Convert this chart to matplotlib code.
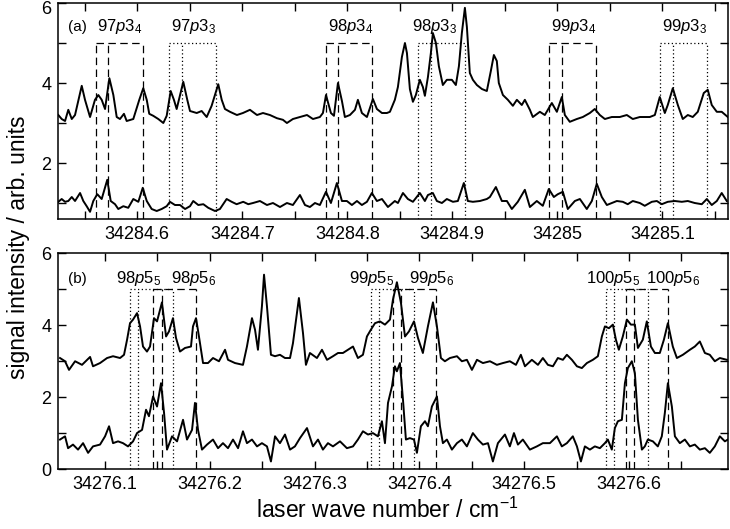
import numpy as np
import matplotlib
matplotlib.use('Agg')
import matplotlib.pyplot as plt
from matplotlib.ticker import MultipleLocator, FuncFormatter
from matplotlib.transforms import ScaledTranslation

plt.rcParams['font.family'] = ['Liberation Sans', 'DejaVu Sans']
plt.rcParams['mathtext.fontset'] = 'custom'
plt.rcParams['mathtext.rm'] = 'Liberation Sans'
plt.rcParams['mathtext.it'] = 'Liberation Sans:italic'

# wave numbers are stored as offsets from these bases
A0 = 34284.0
B0 = 34276.0

# panel (a), upper trace
a_top_x = [0.5248, 0.5280, 0.5312, 0.5343, 0.5376, 0.5407, 0.5471, 0.5502, 0.5550, 0.5597,
           0.5629, 0.5661, 0.5693, 0.5734, 0.5772, 0.5804, 0.5835, 0.5873, 0.5899, 0.5962,
           0.6019, 0.6057, 0.6090, 0.6114, 0.6152, 0.6200, 0.6248, 0.6280, 0.6318, 0.6349,
           0.6375, 0.6438, 0.6476, 0.6502, 0.6566, 0.6613, 0.6661, 0.6708, 0.6771, 0.6804,
           0.6835, 0.6883, 0.6949, 0.7006, 0.7073, 0.7140, 0.7197, 0.7263, 0.7330, 0.7387,
           0.7425, 0.7482, 0.7549, 0.7616, 0.7673, 0.7739, 0.7768, 0.7797, 0.7844, 0.7873,
           0.7911, 0.7949, 0.7977, 0.8025, 0.8073, 0.8101, 0.8139, 0.8187, 0.8244, 0.8282,
           0.8330, 0.8377,
           0.8406, 0.8453, 0.8482, 0.8520, 0.8549, 0.8568, 0.8596, 0.8625, 0.8653, 0.8691,
           0.8720, 0.8739, 0.8768, 0.8796, 0.8815, 0.8844, 0.8872, 0.8910, 0.8948, 0.8996,
           0.9034, 0.9063, 0.9091, 0.9120, 0.9139, 0.9167, 0.9196, 0.9234, 0.9282, 0.9329,
           0.9367, 0.9396, 0.9424, 0.9443, 0.9482, 0.9529,
           0.9577, 0.9615,
           0.9662, 0.9691, 0.9739, 0.9767, 0.9834, 0.9881, 0.9948, 0.9996, 1.0043, 1.0072,
           1.0119, 1.0186, 1.0243, 1.0310, 1.0357, 1.0405, 1.0453, 1.0519, 1.0595, 1.0662,
           1.0719, 1.0786, 1.0881, 1.0929, 1.0976, 1.1024, 1.1052, 1.1100, 1.1148, 1.1195,
           1.1243, 1.1290, 1.1338, 1.1395, 1.1433, 1.1471, 1.1519, 1.1566, 1.1624]
a_top_y = [3.2, 3.1, 3.05, 3.33, 3.1, 3.2, 3.93, 3.58, 3.15, 3.58,
           3.7, 3.58, 3.35, 4.12, 3.7, 3.15, 3.1, 3.23, 3.05, 3.1,
           3.58, 3.87, 3.58, 3.23, 3.18, 3.1, 3.0, 3.18, 3.8, 3.58,
           3.35, 4.03, 3.58, 3.3, 3.25, 3.3, 3.15, 3.43, 3.97, 3.58,
           3.35, 3.28, 3.2, 3.25, 3.33, 3.2, 3.25, 3.2, 3.12, 3.08,
           3.0, 3.1, 3.15, 3.2, 3.1, 3.15, 3.25, 3.7, 3.25, 3.18,
           4.0, 3.55, 3.15, 3.2, 3.33, 3.58, 3.25, 3.15, 3.6, 3.35,
           3.25, 3.25,
           3.28, 3.58, 3.9, 4.65, 5.0, 4.75, 3.85, 3.53, 3.7, 4.08,
           3.9, 3.68, 4.15, 4.75, 5.25, 5.0, 4.42, 3.95, 4.08, 4.08,
           3.95, 4.42, 5.25, 5.88, 5.4, 4.25, 4.08, 3.95, 3.85, 3.8,
           4.3, 4.7, 4.55, 4.0, 3.7, 3.58,
           3.43, 3.58,
           3.45, 3.58, 3.33, 3.15, 3.28, 3.2, 3.5, 3.28, 3.65, 3.2,
           3.03, 3.1, 3.15, 3.25, 3.35, 3.2, 3.1, 3.15, 3.15, 3.2,
           3.1, 3.15, 3.15, 3.2, 3.65, 3.25, 3.45, 3.87, 3.45, 3.1,
           3.2, 3.15, 3.28, 3.75, 3.83, 3.45, 3.28, 3.28, 3.15]

# panel (a), lower trace
a_bot_x = [0.5248, 0.5280, 0.5312, 0.5343, 0.5376, 0.5407, 0.5455, 0.5486, 0.5518, 0.5550,
           0.5581, 0.5619, 0.5661, 0.5714, 0.5747, 0.5788, 0.5819, 0.5867, 0.5914, 0.5962,
           0.6010, 0.6052, 0.6090, 0.6137, 0.6185, 0.6232, 0.6280, 0.6311, 0.6359, 0.6407,
           0.6455, 0.6502, 0.6533, 0.6581, 0.6629, 0.6676, 0.6740, 0.6787, 0.6851, 0.6899,
           0.6946, 0.7009, 0.7057, 0.7102, 0.7168, 0.7235, 0.7292, 0.7359, 0.7425, 0.7482,
           0.7549, 0.7597, 0.7644, 0.7692, 0.7739, 0.7797, 0.7844, 0.7901, 0.7949, 0.7996,
           0.8044, 0.8092, 0.8139, 0.8187, 0.8234, 0.8282, 0.8330, 0.8387, 0.8453, 0.8482,
           0.8530, 0.8577, 0.8625, 0.8691, 0.8739, 0.8768, 0.8815, 0.8853, 0.8901, 0.8948,
           0.9006, 0.9053, 0.9110, 0.9148, 0.9196, 0.9263, 0.9329, 0.9358, 0.9415, 0.9472,
           0.9520, 0.9567, 0.9624, 0.9691, 0.9739, 0.9805, 0.9862, 0.9919, 0.9967, 1.0005,
           1.0053, 1.0100, 1.0167, 1.0215, 1.0281, 1.0329, 1.0376, 1.0424, 1.0472, 1.0519,
           1.0567, 1.0624, 1.0671, 1.0719, 1.0786, 1.0833, 1.0900, 1.0948, 1.0995, 1.1052,
           1.1119, 1.1186, 1.1243, 1.1309, 1.1376, 1.1424, 1.1471, 1.1519, 1.1566, 1.1614]
a_bot_y = [1.03, 1.1, 1.03, 1.05, 1.15, 1.05, 1.25, 1.05, 0.92, 0.78,
           1.05, 1.22, 1.1, 1.58, 1.05, 0.97, 0.85, 0.92, 0.88, 1.1,
           1.03, 1.38, 1.05, 0.85, 0.8, 0.85, 0.92, 1.03, 0.95, 0.95,
           0.85, 0.92, 1.05, 0.95, 0.97, 0.88, 0.8, 0.85, 1.1, 1.03,
           0.97, 1.03, 0.97, 1.0, 1.05, 0.95, 1.0, 0.9, 1.0, 0.95,
           1.2, 0.95, 0.9, 1.0, 0.95, 1.28, 1.0, 1.5, 1.05, 1.05,
           0.95, 1.05, 0.95, 1.03, 1.25, 1.05, 1.1, 0.9, 1.05, 1.0,
           1.25, 1.1, 1.03, 1.25, 1.05, 1.2, 1.25, 1.05, 1.0, 1.1,
           1.03, 1.05, 1.5, 1.05, 1.03, 1.05, 1.1, 1.15, 1.4, 1.05,
           1.05, 0.85, 1.03, 1.33, 0.9, 1.05, 0.93, 1.35, 1.15, 1.22,
           1.28, 0.85, 1.05, 1.1, 0.85, 1.05, 1.48, 1.15, 0.95, 1.0,
           1.05, 1.03, 0.97, 1.05, 1.0, 0.93, 1.03, 1.05, 0.97, 1.03,
           1.05, 1.03, 1.05, 1.0, 0.97, 1.1, 0.95, 1.05, 1.25, 1.05]

# panel (b), upper trace
b_top_x = [0.0570, 0.0618, 0.0656, 0.0714, 0.0780, 0.0857, 0.0885, 0.0952, 0.1019, 0.1076,
           0.1143, 0.1181, 0.1210, 0.1238, 0.1267, 0.1305, 0.1334, 0.1362, 0.1400, 0.1429,
           0.1467, 0.1496, 0.1543, 0.1582, 0.1610, 0.1648, 0.1677, 0.1715, 0.1763, 0.1820,
           0.1839, 0.1868, 0.1896, 0.1935, 0.1982, 0.2030, 0.2087, 0.2145, 0.2173, 0.2240,
           0.2316, 0.2354, 0.2402, 0.2431, 0.2459, 0.2497, 0.2517, 0.2545, 0.2583, 0.2622,
           0.2669, 0.2717, 0.2765, 0.2793, 0.2850, 0.2889, 0.2917, 0.2955, 0.3022, 0.3070,
           0.3118, 0.3175, 0.3223, 0.3270, 0.3318, 0.3366, 0.3413, 0.3461, 0.3499, 0.3537,
           0.3576, 0.3623, 0.3671, 0.3719, 0.3747, 0.3785, 0.3824, 0.3862, 0.3900, 0.3948,
           0.3986, 0.4033, 0.4081, 0.4129, 0.4167, 0.4205, 0.4243, 0.4291, 0.4358, 0.4405,
           0.4453, 0.4501, 0.4549, 0.4606, 0.4673, 0.4739, 0.4797, 0.4863, 0.4921, 0.4968,
           0.5007, 0.5073, 0.5131, 0.5178, 0.5226, 0.5274, 0.5321, 0.5369, 0.5407, 0.5455,
           0.5503, 0.5550, 0.5598, 0.5655, 0.5703, 0.5741, 0.5770, 0.5808, 0.5846, 0.5875,
           0.5903, 0.5941, 0.5980, 0.6018, 0.6056, 0.6085, 0.6132, 0.6170, 0.6209, 0.6247,
           0.6294, 0.6333, 0.6371, 0.6418, 0.6457, 0.6514, 0.6581, 0.6628, 0.6676, 0.6724,
           0.6771, 0.6819, 0.6867, 0.6934]
b_top_y = [3.09, 3.0, 2.76, 3.0, 2.9, 3.12, 2.86, 2.95, 3.09, 3.14,
           3.09, 3.18, 3.6, 4.06, 4.16, 4.34, 3.97, 3.41, 3.27, 3.41,
           4.2, 4.11, 4.64, 3.69, 3.83, 4.2, 3.65, 3.27, 3.37, 3.41,
           3.97, 4.2, 3.69, 2.95, 2.95, 3.09, 3.0, 3.32, 3.04, 2.95,
           2.9, 3.41, 4.2, 3.88, 3.32, 4.53, 5.41, 4.53, 3.18, 3.14,
           3.18, 3.09, 3.09, 3.5, 4.76, 3.78, 2.9, 3.23, 3.09, 3.32,
           3.04, 3.14, 3.23, 3.23, 3.32, 3.41, 3.09, 3.18, 3.69, 3.88,
           4.06, 4.11, 4.02, 4.16, 4.71, 5.2, 4.62, 3.69, 3.83, 4.11,
           3.65, 3.23, 3.97, 4.64, 3.97, 3.09, 3.0, 3.09, 3.14, 3.0,
           3.04, 2.76, 3.04, 2.95, 3.0, 2.9, 2.95, 3.0, 2.9, 3.18,
           2.86, 3.04, 2.9, 3.09, 2.9, 2.86, 3.09, 3.04, 3.18, 3.04,
           2.86, 2.81, 2.95, 3.04, 3.14, 3.69, 3.97, 3.92, 4.02, 3.6,
           3.32, 3.69, 4.16, 4.02, 4.02, 3.37, 3.6, 4.11, 3.41, 3.23,
           3.23, 3.6, 4.06, 3.41, 3.09, 3.18, 3.32, 3.41, 3.55, 3.23,
           3.18, 3.0, 3.09, 3.04]

# panel (b), lower trace
b_bot_x = [0.0570, 0.0618, 0.0647, 0.0694, 0.0742, 0.0790, 0.0838, 0.0885, 0.0952, 0.1000,
           0.1038, 0.1076, 0.1124, 0.1171, 0.1219, 0.1267, 0.1305, 0.1353, 0.1391, 0.1419,
           0.1458, 0.1496, 0.1534, 0.1563, 0.1591, 0.1639, 0.1687, 0.1744, 0.1782, 0.1830,
           0.1858, 0.1887, 0.1925, 0.1973, 0.2030, 0.2078, 0.2125, 0.2173, 0.2221, 0.2269,
           0.2316, 0.2354, 0.2402, 0.2450, 0.2497, 0.2545, 0.2583, 0.2622, 0.2669, 0.2717,
           0.2765, 0.2812, 0.2860, 0.2927, 0.2984, 0.3032, 0.3079, 0.3127, 0.3175, 0.3242,
           0.3308, 0.3366, 0.3413, 0.3461, 0.3509, 0.3556, 0.3604, 0.3642, 0.3671, 0.3700,
           0.3738, 0.3766, 0.3785, 0.3814, 0.3843, 0.3871, 0.3909, 0.3948, 0.3976, 0.4014,
           0.4053, 0.4081, 0.4119, 0.4167, 0.4196, 0.4224, 0.4262, 0.4310, 0.4358, 0.4405,
           0.4453, 0.4510, 0.4558, 0.4606, 0.4654, 0.4701, 0.4749, 0.4816, 0.4863, 0.4902,
           0.4940, 0.4987, 0.5054, 0.5121, 0.5178, 0.5245, 0.5312, 0.5359, 0.5407, 0.5464,
           0.5503, 0.5541, 0.5579, 0.5627, 0.5674, 0.5722, 0.5770, 0.5798, 0.5836, 0.5865,
           0.5894, 0.5932, 0.5961, 0.5989, 0.6027, 0.6056, 0.6085, 0.6123, 0.6151, 0.6180,
           0.6228, 0.6275, 0.6313, 0.6342, 0.6371, 0.6409, 0.6438, 0.6485, 0.6533, 0.6581,
           0.6628, 0.6676, 0.6724, 0.6771, 0.6819, 0.6867, 0.6915, 0.6943]
b_bot_y = [0.82, 0.91, 0.58, 0.68, 0.54, 0.72, 0.45, 0.63, 0.68, 0.91,
           1.19, 0.72, 0.77, 0.72, 0.63, 0.77, 1.0, 1.09, 1.65, 1.47,
           2.02, 1.74, 2.39, 1.56, 0.54, 0.91, 0.77, 1.37, 0.82, 1.09,
           1.84, 1.09, 0.54, 0.68, 0.82, 0.58, 0.72, 0.58, 0.82, 0.58,
           1.05, 0.72, 0.82, 0.63, 0.72, 0.63, 0.21, 0.91, 0.72, 0.96,
           0.54, 0.63, 0.86, 1.14, 0.63, 0.82, 0.54, 0.72, 0.63, 0.77,
           0.58, 0.63, 0.82, 1.05, 0.96, 1.0, 0.91, 1.33, 0.72, 1.84,
           2.3, 2.86, 2.72, 2.95, 1.93, 0.82, 0.86, 0.82, 0.45, 1.19,
           1.33, 1.19, 1.74, 2.02, 1.19, 0.72, 0.82, 0.54, 0.72, 0.82,
           0.63, 1.0, 0.82, 0.68, 0.72, 0.21, 0.72, 0.96, 0.63, 1.0,
           0.68, 0.82, 0.54, 0.63, 0.72, 0.72, 0.91, 0.63, 0.72, 0.91,
           0.63, 0.21, 0.63, 0.54, 0.63, 0.58, 0.72, 0.82, 0.54, 1.14,
           1.33, 1.37, 2.39, 2.81, 3.0, 2.67, 1.37, 0.54, 0.63, 0.82,
           0.77, 0.63, 0.91, 1.56, 2.39, 1.74, 0.91, 0.72, 0.82, 0.63,
           0.68, 0.54, 0.58, 0.45, 0.63, 0.91, 0.77, 0.82]

# assignment brackets (line positions)
a_dashed = [[0.5607, 0.5721, 0.6055], [0.7795, 0.7909, 0.8238], [0.9921, 1.0042, 1.0366]]
a_dotted = [[0.6305, 0.6429, 0.6750], [0.8677, 0.8798, 0.9121], [1.0978, 1.1099, 1.1423]]
b_dotted = [[0.1238, 0.1317, 0.1646], [0.3538, 0.3617, 0.3948], [0.5777, 0.5856, 0.6184]]
b_dashed = [[0.1455, 0.1541, 0.1868], [0.3745, 0.3824, 0.4158], [0.5968, 0.6044, 0.6375]]
bracket_top = 5.0

a_labels = [r'97$\mathit{p}$3$_4$', r'97$\mathit{p}$3$_3$', r'98$\mathit{p}$3$_4$',
            r'98$\mathit{p}$3$_3$', r'99$\mathit{p}$3$_4$', r'99$\mathit{p}$3$_3$']
a_label_x = [0.5835, 0.6540, 0.8034, 0.8834, 1.0157, 1.1214]
b_labels = [r'98$\mathit{p}$5$_5$', r'98$\mathit{p}$5$_6$', r'99$\mathit{p}$5$_5$',
            r'99$\mathit{p}$5$_6$', r'100$\mathit{p}$5$_5$', r'100$\mathit{p}$5$_6$']
b_label_x = [0.1319, 0.1844, 0.3542, 0.4115, 0.5846, 0.6418]

DASH = (0, (6, 3.5))
DOT = (0, (1, 2))


def tick_fmt(v, pos):
    s = f'{v:.1f}'
    return s[:-2] if s.endswith('.0') else s


def brackets(ax, base, groups, style, ymin):
    for g in groups:
        xs = base + np.array(g)
        ax.vlines(xs, ymin, bracket_top, colors='black', linestyles=style, lw=0.9)
        ax.hlines(bracket_top, xs[0], xs[-1], colors='black', linestyles=style, lw=0.9)


def setup(ax, xlim, ylim):
    ax.set_xlim(*xlim)
    ax.set_ylim(*ylim)
    ax.xaxis.set_major_locator(MultipleLocator(0.1))
    ax.xaxis.set_minor_locator(MultipleLocator(0.05))
    ax.xaxis.set_major_formatter(FuncFormatter(tick_fmt))
    ax.yaxis.set_major_locator(MultipleLocator(2))
    ax.yaxis.set_minor_locator(MultipleLocator(1))
    ax.tick_params(which='both', direction='in', top=True, right=True, width=1.0)
    ax.tick_params(which='major', length=6, labelsize=13, pad=5)
    ax.tick_params(which='minor', length=6)
    for s in ax.spines.values():
        s.set_linewidth(1.1)


fig = plt.figure(figsize=(7.3, 5.29), dpi=100)
ax_a = fig.add_axes([0.0799, 0.586, 0.9174, 0.4083])
ax_b = fig.add_axes([0.0799, 0.1134, 0.9174, 0.4074])

# panel (a)
ylim_a = (0.6, 6)
ax_a.plot(A0 + np.array(a_top_x), a_top_y, color='black', lw=1.4)
ax_a.plot(A0 + np.array(a_bot_x), a_bot_y, color='black', lw=1.4)
brackets(ax_a, A0, a_dashed, DASH, ylim_a[0])
brackets(ax_a, A0, a_dotted, DOT, ylim_a[0])
for t, x in zip(a_labels, a_label_x):
    ax_a.text(A0 + x, 5.3, t, ha='center', va='baseline', fontsize=12)
ax_a.text(A0 + 0.5340, 5.3, '(a)', ha='left', va='baseline', fontsize=11)
setup(ax_a, (A0 + 0.5248, A0 + 1.1626), ylim_a)

# panel (b)
ylim_b = (0, 6)
ax_b.plot(B0 + np.array(b_top_x), b_top_y, color='black', lw=1.4)
ax_b.plot(B0 + np.array(b_bot_x), b_bot_y, color='black', lw=1.4)
brackets(ax_b, B0, b_dotted, DOT, ylim_b[0])
brackets(ax_b, B0, b_dashed, DASH, ylim_b[0])
for t, x in zip(b_labels, b_label_x):
    ax_b.text(B0 + x, 5.19, t, ha='center', va='baseline', fontsize=12)
ax_b.text(B0 + 0.0647, 5.19, '(b)', ha='left', va='baseline', fontsize=11)
setup(ax_b, (B0 + 0.0554, B0 + 0.6945), ylim_b)

fig.text(0.025, 0.533, 'signal intensity / arb. units', rotation=90,
         ha='center', va='center', fontsize=16.5)
fig.text(0.530, 0.036, 'laser wave number / cm$^{-1}$', ha='center', va='center',
         fontsize=16.5)

# the top "6" of panel (a) sits at the figure edge: nudge it down a little
fig.canvas.draw()
for tick in ax_a.yaxis.get_major_ticks():
    if abs(tick.get_loc() - 6) < 1e-6:
        lab = tick.label1
        lab.set_transform(lab.get_transform() + ScaledTranslation(0, -3 / 72, fig.dpi_scale_trans))

fig.savefig('out.png', dpi=100)
